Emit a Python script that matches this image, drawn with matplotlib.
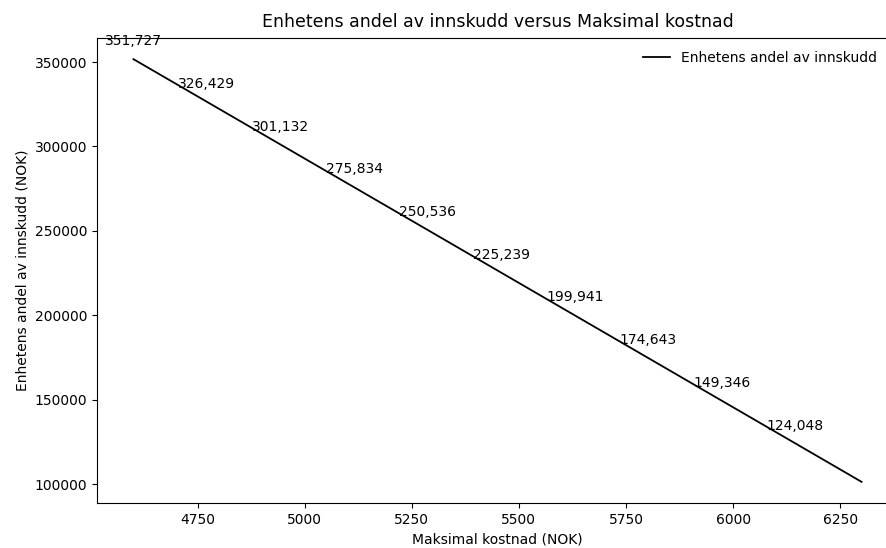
import matplotlib
matplotlib.use('Agg')
import matplotlib.pyplot as plt

# Maksimal kostnad (NOK) at the labelled points, plus the final point
max_cost = [4600, 4771.7, 4943.4, 5115.2, 5286.9, 5458.6, 5630.3, 5802.0, 5973.7, 6145.5, 6300]
# Enhetens andel av innskudd (NOK)
unit_share = [351727, 326429, 301132, 275834, 250536, 225239, 199941, 174643, 149346, 124048, 101277]
# the last point carries no label
n_labelled = 10

fig = plt.figure(figsize=(8.87, 5.48), dpi=100)
# axes runs past the right edge of the picture, as in the reference
ax = fig.add_axes([97 / 887, 45 / 548, 801 / 887, 465 / 548])

ax.plot(max_cost, unit_share, color='black', linewidth=1.3,
        label='Enhetens andel av innskudd')

for x, y in zip(max_cost[:n_labelled], unit_share[:n_labelled]):
    ax.annotate(f"{y:,.0f}", (x, y), textcoords='offset points', xytext=(0, 10),
                ha='center', fontsize=10)

ax.set_title('Enhetens andel av innskudd versus Maksimal kostnad', fontsize=12.5, pad=8)
ax.set_xlabel('Maksimal kostnad (NOK)', fontsize=10)
ax.set_ylabel('Enhetens andel av innskudd (NOK)', fontsize=10)
ax.tick_params(labelsize=10)
ax.set_xticks([4750, 5000, 5250, 5500, 5750, 6000, 6250])
ax.legend(loc='upper right', frameon=False, fontsize=10,
          bbox_to_anchor=(0.99, 1.0))

fig.savefig('out.png', dpi=100)
